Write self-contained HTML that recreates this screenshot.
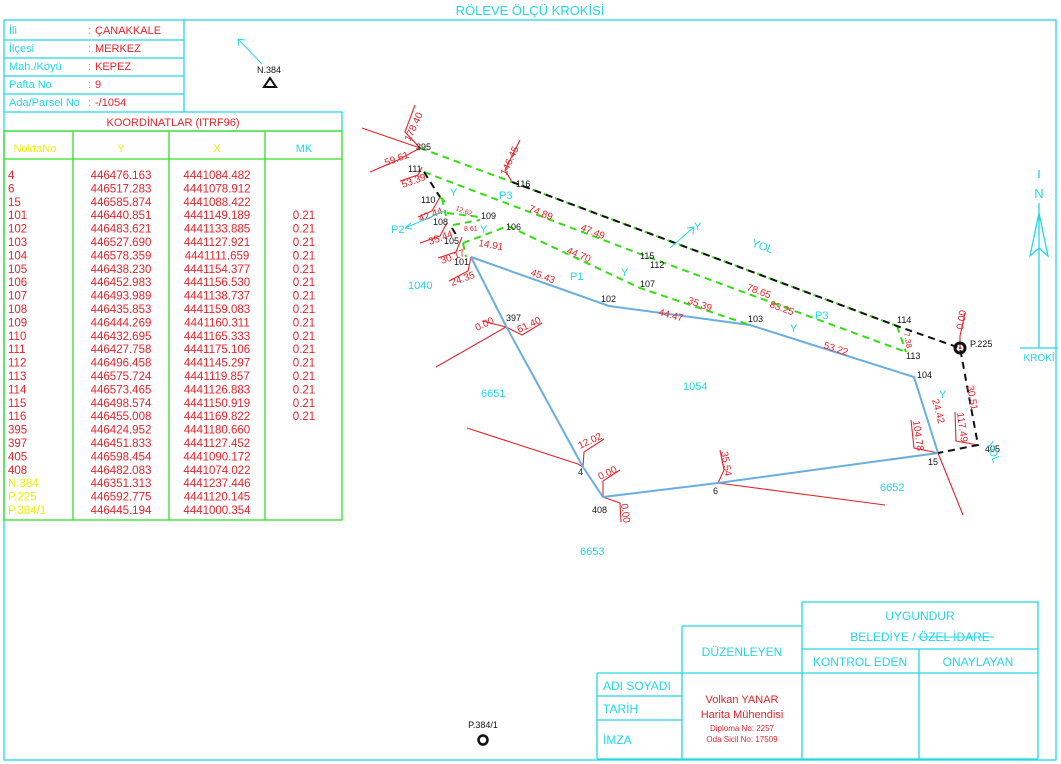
<!DOCTYPE html>
<html><head><meta charset="utf-8"><style>
html,body{margin:0;padding:0;background:#fff;}
svg{display:block;font-family:"Liberation Sans",sans-serif;}
.c{fill:#22d8e6}.r{fill:#e5242c}.k{fill:#111}.y{fill:#f0f000}
.sc{stroke:#22d8e6;fill:none;stroke-width:1.3}
.sg{stroke:#33e022;fill:none;stroke-width:1.3}
.rl{stroke:#e5242c;fill:none;stroke-width:1.1}
.bl{stroke:#6aaee0;fill:none;stroke-width:2}
.gd{stroke:#33dd11;fill:none;stroke-width:2;stroke-dasharray:7,5}
.kd{stroke:#111;fill:none;stroke-width:2;stroke-dasharray:7,5}
</style></head><body>
<svg width="1061" height="764" viewBox="0 0 1061 764">
<text x="530" y="15" class="c" font-size="13" text-anchor="middle">RÖLEVE ÖLÇÜ KROKİSİ</text>
<rect x="4" y="20" width="1052" height="740" class="sc"/>
<g class="sc"><path d="M4 40H184M4 58H184M4 76H184M4 94H184M184 20V112M4 112H342V131M4 131H342"/></g>
<g font-size="11">
<text x="9" y="34" class="c">İli</text><text x="88" y="34" class="c">:</text><text x="95" y="34" class="r">ÇANAKKALE</text>
<text x="9" y="52" class="c">İlçesi</text><text x="88" y="52" class="c">:</text><text x="95" y="52" class="r">MERKEZ</text>
<text x="9" y="70" class="c">Mah./Köyü</text><text x="88" y="70" class="c">:</text><text x="95" y="70" class="r">KEPEZ</text>
<text x="9" y="88" class="c">Pafta No</text><text x="88" y="88" class="c">:</text><text x="95" y="88" class="r">9</text>
<text x="9" y="106" class="c">Ada/Parsel No</text><text x="88" y="106" class="c">:</text><text x="95" y="106" class="r">-/1054</text>
<text x="173" y="126" class="r" text-anchor="middle">KOORDİNATLAR (ITRF96)</text>
<text x="35" y="152" class="y" text-anchor="middle">NoktaNo</text>
<text x="121" y="152" class="y" text-anchor="middle">Y</text>
<text x="217" y="152" class="y" text-anchor="middle">X</text>
<text x="304" y="152" class="c" text-anchor="middle">MK</text>
</g>
<g class="sg"><rect x="4" y="131" width="338" height="389"/><path d="M4 159H342M73 131V520M169 131V520M265 131V520"/></g>
<g font-size="11.5">
<text x="8" y="179" class="r"><tspan x="8">4</tspan><tspan x="8" dy="13.4">6</tspan><tspan x="8" dy="13.4">15</tspan><tspan x="8" dy="13.4">101</tspan><tspan x="8" dy="13.4">102</tspan><tspan x="8" dy="13.4">103</tspan><tspan x="8" dy="13.4">104</tspan><tspan x="8" dy="13.4">105</tspan><tspan x="8" dy="13.4">106</tspan><tspan x="8" dy="13.4">107</tspan><tspan x="8" dy="13.4">108</tspan><tspan x="8" dy="13.4">109</tspan><tspan x="8" dy="13.4">110</tspan><tspan x="8" dy="13.4">111</tspan><tspan x="8" dy="13.4">112</tspan><tspan x="8" dy="13.4">113</tspan><tspan x="8" dy="13.4">114</tspan><tspan x="8" dy="13.4">115</tspan><tspan x="8" dy="13.4">116</tspan><tspan x="8" dy="13.4">395</tspan><tspan x="8" dy="13.4">397</tspan><tspan x="8" dy="13.4">405</tspan><tspan x="8" dy="13.4">408</tspan></text>
<text x="8" y="487.2" class="y"><tspan x="8">N.384</tspan><tspan x="8" dy="13.4">P.225</tspan><tspan x="8" dy="13.4">P.384/1</tspan></text>
<text y="179" class="r" text-anchor="middle"><tspan x="121">446476.163</tspan><tspan x="121" dy="13.4">446517.283</tspan><tspan x="121" dy="13.4">446585.874</tspan><tspan x="121" dy="13.4">446440.851</tspan><tspan x="121" dy="13.4">446483.621</tspan><tspan x="121" dy="13.4">446527.690</tspan><tspan x="121" dy="13.4">446578.359</tspan><tspan x="121" dy="13.4">446438.230</tspan><tspan x="121" dy="13.4">446452.983</tspan><tspan x="121" dy="13.4">446493.989</tspan><tspan x="121" dy="13.4">446435.853</tspan><tspan x="121" dy="13.4">446444.269</tspan><tspan x="121" dy="13.4">446432.695</tspan><tspan x="121" dy="13.4">446427.758</tspan><tspan x="121" dy="13.4">446496.458</tspan><tspan x="121" dy="13.4">446575.724</tspan><tspan x="121" dy="13.4">446573.465</tspan><tspan x="121" dy="13.4">446498.574</tspan><tspan x="121" dy="13.4">446455.008</tspan><tspan x="121" dy="13.4">446424.952</tspan><tspan x="121" dy="13.4">446451.833</tspan><tspan x="121" dy="13.4">446598.454</tspan><tspan x="121" dy="13.4">446482.083</tspan><tspan x="121" dy="13.4">446351.313</tspan><tspan x="121" dy="13.4">446592.775</tspan><tspan x="121" dy="13.4">446445.194</tspan></text>
<text y="179" class="r" text-anchor="middle"><tspan x="217">4441084.482</tspan><tspan x="217" dy="13.4">4441078.912</tspan><tspan x="217" dy="13.4">4441088.422</tspan><tspan x="217" dy="13.4">4441149.189</tspan><tspan x="217" dy="13.4">4441133.885</tspan><tspan x="217" dy="13.4">4441127.921</tspan><tspan x="217" dy="13.4">4441111.659</tspan><tspan x="217" dy="13.4">4441154.377</tspan><tspan x="217" dy="13.4">4441156.530</tspan><tspan x="217" dy="13.4">4441138.737</tspan><tspan x="217" dy="13.4">4441159.083</tspan><tspan x="217" dy="13.4">4441160.311</tspan><tspan x="217" dy="13.4">4441165.333</tspan><tspan x="217" dy="13.4">4441175.106</tspan><tspan x="217" dy="13.4">4441145.297</tspan><tspan x="217" dy="13.4">4441119.857</tspan><tspan x="217" dy="13.4">4441126.883</tspan><tspan x="217" dy="13.4">4441150.919</tspan><tspan x="217" dy="13.4">4441169.822</tspan><tspan x="217" dy="13.4">4441180.660</tspan><tspan x="217" dy="13.4">4441127.452</tspan><tspan x="217" dy="13.4">4441090.172</tspan><tspan x="217" dy="13.4">4441074.022</tspan><tspan x="217" dy="13.4">4441237.446</tspan><tspan x="217" dy="13.4">4441120.145</tspan><tspan x="217" dy="13.4">4441000.354</tspan></text>
<text y="219.2" class="r" text-anchor="middle"><tspan x="304">0.21</tspan><tspan x="304" dy="13.4">0.21</tspan><tspan x="304" dy="13.4">0.21</tspan><tspan x="304" dy="13.4">0.21</tspan><tspan x="304" dy="13.4">0.21</tspan><tspan x="304" dy="13.4">0.21</tspan><tspan x="304" dy="13.4">0.21</tspan><tspan x="304" dy="13.4">0.21</tspan><tspan x="304" dy="13.4">0.21</tspan><tspan x="304" dy="13.4">0.21</tspan><tspan x="304" dy="13.4">0.21</tspan><tspan x="304" dy="13.4">0.21</tspan><tspan x="304" dy="13.4">0.21</tspan><tspan x="304" dy="13.4">0.21</tspan><tspan x="304" dy="13.4">0.21</tspan><tspan x="304" dy="13.4">0.21</tspan></text>
</g>
<path d="M262 64L238 39M238 39l7 1M238 39l1 7" stroke="#22d8e6" stroke-width="1" fill="none"/>
<text x="269" y="73" class="k" font-size="9" text-anchor="middle">N.384</text>
<path d="M270 78L264 87H276Z" stroke="#111" stroke-width="2" fill="none"/>
<text x="1039" y="198" class="c" font-size="13" text-anchor="middle">N</text>
<path d="M1039 170V178M1039 203V348M1039 213L1030 256L1039 248L1048 256Z M1020 348H1058" class="sc" stroke-width="1"/>
<text x="1039" y="361" class="c" font-size="10" text-anchor="middle">KROKİ</text>
<g class="rl">
<path d="M362 128L420 148L405 132L415 105M420 148L398 160L370 172M420 148"/>
<path d="M422 167L418 175L400 181M512 182L505 170L520 140M440 197L432 211L418 217M447 223L440 236L420 243M462 237L456 252L438 258M471 257L468 271L449 281"/>
<path d="M436 367L506 327L482 321M506 327L522 335L542 323"/>
<path d="M467 428L578 464L583 467L584 452L604 439"/>
<path d="M603 497L603 481L620 470M603 497L620 503L621 522"/>
<path d="M718 483L885 505M718 483L724 470L720 450"/>
<path d="M938 453L963 515M938 453L914 448L911 420M978 445L956 441L955 412M960 348L960 336L965 313"/>
</g>
<path class="bl" d="M471 257L609 306L750 325L914 377L938 453L718 483L603 497L583 467L506 326L471 257"/>
<g class="gd">
<path d="M420 148L512 182L897 326"/>
<path d="M424 172L651 258L906 352"/>
<path d="M508 226L640 288L750 325"/>
<path d="M463 243L508 226M447 213L480 217M453 225L480 220M442 198L446 216M463 243L466 257M897 326L906 352M440 197L446 203"/>
</g>
<g class="kd">
<path d="M424 172L440 197M452 228L458 238M512 182L897 326L960 348L978 445L938 453"/>
</g>
<circle cx="960" cy="348" r="5" fill="none" stroke="#111" stroke-width="3"/><circle cx="960" cy="348" r="1.3" fill="#e5242c"/>
<text x="970" y="347" class="k" font-size="9">P.225</text>
<circle cx="483" cy="740" r="4.5" fill="none" stroke="#111" stroke-width="2.5"/>
<text x="483" y="728" class="k" font-size="9" text-anchor="middle">P.384/1</text>
<g font-size="9" class="k">
<text x="416" y="150">395</text><text x="408" y="172">111</text><text x="421" y="203">110</text><text x="481" y="219">109</text><text x="433" y="225">108</text><text x="506" y="230">106</text><text x="444" y="244">105</text><text x="454" y="265">101</text><text x="516" y="187">116</text><text x="640" y="259">115</text><text x="650" y="268">112</text><text x="640" y="287">107</text><text x="601" y="302">102</text><text x="748" y="322">103</text><text x="897" y="323">114</text><text x="906" y="359">113</text><text x="917" y="378">104</text><text x="928" y="465">15</text><text x="985" y="452">405</text><text x="506" y="321">397</text><text x="578" y="475">4</text><text x="592" y="513">408</text><text x="713" y="494">6</text>
</g>
<g font-size="10" class="r">
<text transform="translate(410,142) rotate(-65)">178.40</text>
<text transform="translate(386,166) rotate(-20)">59.61</text>
<text transform="translate(403,188) rotate(-20)">53.39</text>
<text transform="translate(506,176) rotate(-65)">146.45</text>
<text transform="translate(420,222) rotate(-20)">42.44</text>
<text transform="translate(455,210) rotate(20)" font-size="7">12.62</text>
<text transform="translate(430,245) rotate(-20)">35.44</text>
<text transform="translate(464,231)" font-size="7">8.61</text>
<text transform="translate(478,246) rotate(10)">14.91</text>
<text transform="translate(442,264) rotate(-20)">30.17</text>
<text transform="translate(452,286) rotate(-20)">24.35</text>
<text transform="translate(528,211) rotate(22)">74.89</text>
<text transform="translate(580,230) rotate(22)">47.49</text>
<text transform="translate(566,253) rotate(22)">44.70</text>
<text transform="translate(530,275) rotate(20)">45.43</text>
<text transform="translate(658,315) rotate(15)">44.47</text>
<text transform="translate(687,303) rotate(20)">35.39</text>
<text transform="translate(746,290) rotate(20)">78.65</text>
<text transform="translate(769,307) rotate(20)">83.25</text>
<text transform="translate(823,348) rotate(18)">53.22</text>
<text transform="translate(904,333) rotate(80)" font-size="8">7.38</text>
<text transform="translate(963,330) rotate(-80)">0.00</text>
<text transform="translate(967,386) rotate(80)">30.51</text>
<text transform="translate(932,400) rotate(75)">24.42</text>
<text transform="translate(913,421) rotate(82)">104.78</text>
<text transform="translate(957,413) rotate(82)">117.49</text>
<text transform="translate(721,452) rotate(80)">35.54</text>
<text transform="translate(580,449) rotate(-25)">12.02</text>
<text transform="translate(600,480) rotate(-25)">0.00</text>
<text transform="translate(621,504) rotate(82)">0.00</text>
<text transform="translate(477,331) rotate(-25)">0.00</text>
<text transform="translate(519,333) rotate(-25)">61.40</text>
</g>
<g font-size="11" class="c">
<text x="450" y="196">Y</text><text x="499" y="199">P3</text><text x="480" y="233">Y</text><text x="391" y="233">P2</text>
<text x="694" y="230">Y</text><text transform="translate(751,246) rotate(20)">YOL</text>
<text x="570" y="280">P1</text><text x="621" y="276">Y</text><text x="790" y="332">Y</text><text x="815" y="319">P3</text>
<text x="408" y="289">1040</text><text x="683" y="390">1054</text><text x="481" y="397">6651</text><text x="880" y="491">6652</text><text x="580" y="555">6653</text>
<text x="939" y="398">Y</text><text transform="translate(986,443) rotate(70)">YOL</text>
</g>
<path d="M445 211L405 228M405 228l6 -5M405 228l7 1M670 248L694 227M694 227l-7 1M694 227l-1 7" stroke="#22d8e6" stroke-width="1" fill="none"/>
<g class="sc">
<path d="M802 602H1038V759M802 602V759M802 649H1038M919 649V759M682 673H1038M682 626H802M682 626V759M597 673H682M597 673V759M597 696H682M597 720H682M597 759H1038"/>
</g>
<g font-size="12" class="c" text-anchor="middle">
<text x="920" y="620">UYGUNDUR</text>
<text x="920" y="641">BELEDİYE / ÖZEL İDARE</text>
<text x="742" y="656">DÜZENLEYEN</text>
<text x="860" y="666">KONTROL EDEN</text>
<text x="978" y="666">ONAYLAYAN</text>
</g>
<path d="M918 637H994" stroke="#22d8e6" stroke-width="1"/>
<g font-size="12" class="c"><text x="603" y="690">ADI SOYADI</text><text x="603" y="713">TARİH</text><text x="603" y="744">İMZA</text></g>
<g class="r" text-anchor="middle"><text x="742" y="703" font-size="11">Volkan YANAR</text><text x="742" y="718" font-size="11">Harita Mühendisi</text><text x="742" y="731" font-size="8">Diploma No: 2257</text><text x="742" y="742" font-size="8">Oda Sicil No: 17509</text></g>
</svg>
</body></html>
